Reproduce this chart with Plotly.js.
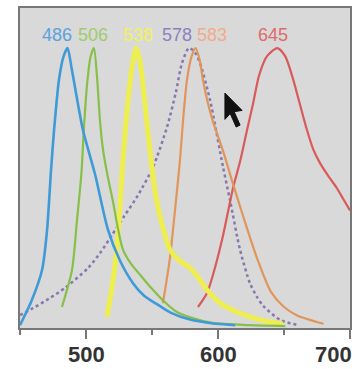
<!DOCTYPE html>
<html><head><meta charset="utf-8">
<script src="https://cdn.plot.ly/plotly-3.0.1.min.js"></script>
<style>html,body{margin:0;padding:0;background:#fff}#c{width:355px;height:369px}</style>
</head><body><div id="c"></div>
<script>
// Emission spectra (wavelength nm, normalized intensity)
const blueX   = [450,459,466.7,470.5,473.5,475.8,479.5,483,486,489.4,497.7,506.8,516.7,525.8,535.6,544,553.8,564,578.8,595,613];
const blueY   = [0.01,0.10,0.207,0.35,0.564,0.707,0.886,0.97,1.0,0.92,0.707,0.55,0.35,0.24,0.16,0.115,0.085,0.055,0.03,0.017,0.01];
const greenX  = [481.8,489.4,493.2,496.5,498.5,501,503.5,506,508.3,510.6,512.9,516.5,520.5,524,528,534,541,550,558,568,579,596,624,651];
const greenY  = [0.075,0.207,0.386,0.55,0.72,0.88,0.97,1.0,0.9,0.74,0.636,0.54,0.45,0.36,0.28,0.23,0.19,0.14,0.1,0.06,0.038,0.018,0.01,0.007];
const yellowX = [515.9,519.5,523.5,528,532,535.5,538,541,544.7,548.5,552,556,563.6,571,578.8,585,591.7,601.5,614.4,631.8,649.2];
const yellowY = [0.04,0.14,0.29,0.6,0.82,0.95,1.0,0.95,0.8,0.63,0.5,0.4,0.28,0.24,0.215,0.18,0.136,0.089,0.057,0.029,0.014];
const purpleX = [450,461.4,472,484.1,501.5,511,519.7,529,538.6,550.8,561.4,568,572.7,578,582.5,586.4,594,603.8,609.1,616.7,624.2,629.5,634.1,647,659.8];
const purpleY = [0.046,0.075,0.105,0.143,0.214,0.27,0.332,0.4,0.468,0.575,0.718,0.84,0.946,1.0,0.985,0.946,0.814,0.575,0.457,0.279,0.16,0.111,0.08,0.029,0.011];
const orangeX = [558.3,563.6,567.4,571.2,573.5,576.5,580,583,586,588.6,592,596,604,611,619,629.5,640,650,660,680];
const orangeY = [0.089,0.25,0.42,0.6,0.74,0.886,0.97,1.0,0.96,0.886,0.81,0.74,0.63,0.52,0.40,0.25,0.13,0.075,0.045,0.015];
const redX    = [584.8,591.7,598,603.8,611.4,617,622,626.5,631,637,645,651,656.8,662,667.4,672,677.3,684,690,695,700];
const redY    = [0.075,0.125,0.22,0.33,0.5,0.6,0.707,0.8,0.9,0.97,1.0,0.97,0.89,0.8,0.707,0.64,0.589,0.54,0.5,0.46,0.42];

// Peak labels
const peakLabels = ["486","506","538","578","583","645"];
const labelX = [478,505.3,539.4,568.9,595.5,641.7];
const labelColors = ["#5aa2de","#9fcc6c","#f2f25a","#8c80c2","#f2ab8a","#e06a6a"];

// X tick labels
const tickVals = [500,600,700];
const tickText = ["500","600","700"];

const mk = (x,y,color,width,dash)=>({x:x,y:y,type:'scatter',mode:'lines',
  line:{color:color,width:width,dash:dash||'solid',shape:'spline',smoothing:0.7},hoverinfo:'skip',showlegend:false});

const data = [
  mk(purpleX,purpleY,'#8578ad',2.5,'dot'),
  mk(redX,redY,'#d85a5a',2.2),
  mk(orangeX,orangeY,'#e0965a',2.2),
  mk(yellowX,yellowY,'#eeee4e',5),
  mk(greenX,greenY,'#86c048',2.2),
  mk(blueX,blueY,'#3f9ad8',2.6)
];

const annotations = peakLabels.map((t,i)=>({x:labelX[i],y:1.046,xref:'x',yref:'y',text:t,showarrow:false,
  font:{family:'Liberation Sans, Arial',size:18,color:labelColors[i]}}));
tickVals.forEach((v,i)=>annotations.push({x:v,y:0,xref:'x',yref:'paper',yanchor:'top',yshift:-12,
  xanchor:(i===tickVals.length-1)?'right':'center',xshift:(i===tickVals.length-1)?4:0,
  text:'<b>'+tickText[i]+'</b>',showarrow:false,
  font:{family:'Liberation Sans, Arial',size:22,color:'#333'}}));

const layout = {
  width:355,height:369,
  margin:{l:20,r:5,t:8,b:41},
  paper_bgcolor:'#ffffff',plot_bgcolor:'#d9d9d9',
  xaxis:{range:[450,700],showgrid:false,zeroline:false,showline:true,mirror:true,linecolor:'#777',linewidth:2,
    ticks:'outside',tick0:500,dtick:100,ticklen:9,tickwidth:1.5,tickcolor:'#777',showticklabels:false,
    minor:{dtick:50,tick0:450,ticks:'outside',ticklen:5,tickcolor:'#777',tickwidth:1.5}},
  yaxis:{range:[0,1.143],showgrid:false,zeroline:false,showline:true,mirror:true,linecolor:'#777',linewidth:2,
    ticks:'',showticklabels:false},
  annotations:annotations,
  shapes:[{type:'path',xref:'paper',yref:'paper',
    path:'M 0.621 0.734 L 0.621 0.652 L 0.637 0.67 L 0.655 0.628 L 0.667 0.634 L 0.649 0.676 L 0.673 0.68 Z',
    fillcolor:'#111',line:{color:'#111',width:1}}]
};
Plotly.newPlot('c',data,layout,{displayModeBar:false,staticPlot:true});
</script></body></html>
